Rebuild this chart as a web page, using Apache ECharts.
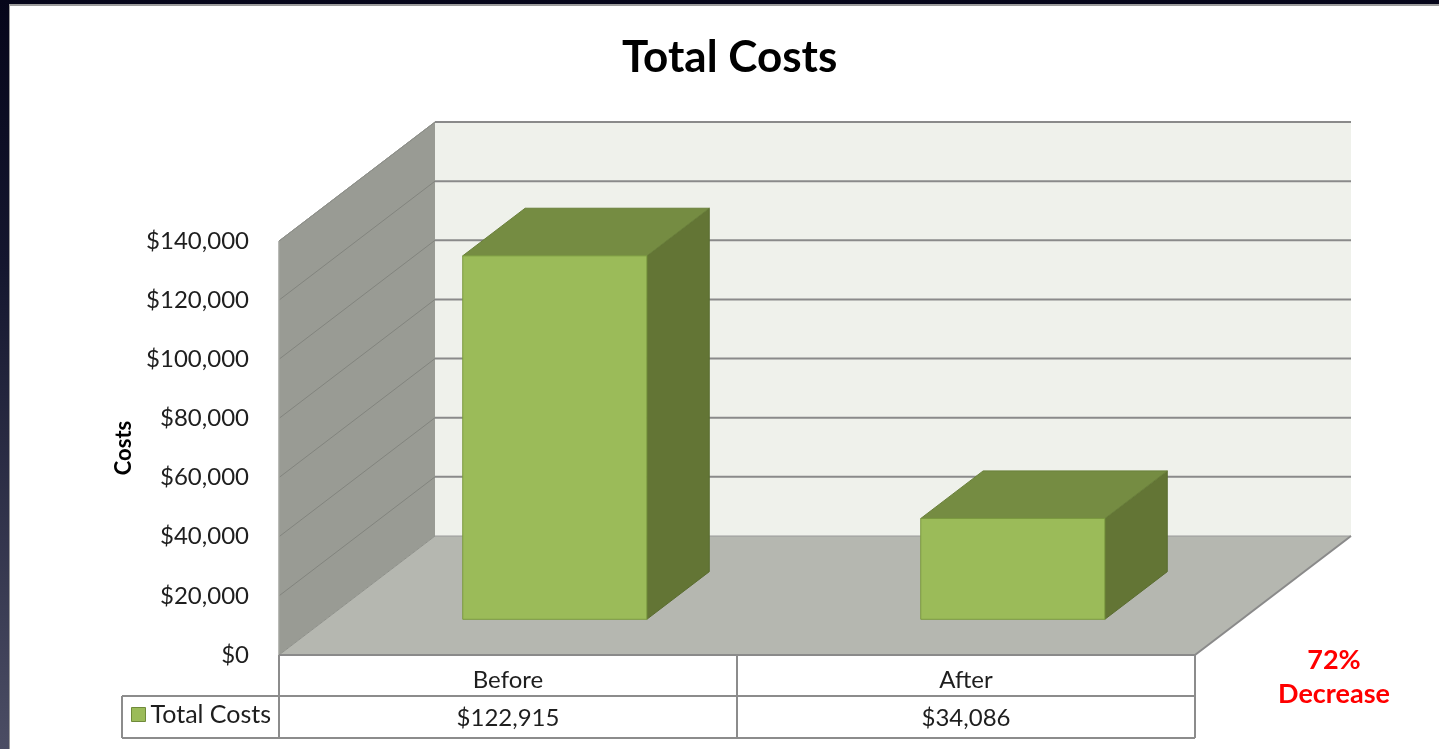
<!DOCTYPE html>
<html><head><meta charset="utf-8">
<script src="https://cdn.jsdelivr.net/npm/echarts@6/dist/echarts.min.js"></script>
<style>
html,body{margin:0;padding:0;width:1439px;height:749px;overflow:hidden;background:linear-gradient(#06061a 0%, #14162e 35%, #4b4d64 100%);}
#panel{position:absolute;left:9px;top:4px;width:1430px;height:745px;background:#fff;border-left:1px solid #9c9c9c;border-top:2px solid #9c9c9c;box-sizing:border-box;}
#chart{position:absolute;left:0;top:0;width:1439px;height:749px;}
</style></head><body><div id="panel"></div><div id="chart"></div>
<script>
// ---- data ----
const chartTitle = 'Total Costs';
const seriesName = 'Total Costs';
const axisName = 'Costs';
const categories = ['Before', 'After'];
const costs = [122915, 34086];
const yMin = 0, yMax = 140000, yStep = 20000;

// ---- style constants ----
const FONT = 'Lato, "Open Sans", sans-serif';
const DEPTH = [156, -119];          // full floor depth (oblique projection)
const BAR_D0 = 0.30, BAR_D1 = 0.70; // bar depth placement
const BAR_RATIO = 0.402;
const ROW1 = 41, ROW2 = 83, LEGEND_CELL_W = 157;
const money = v => '$' + Math.round(v).toLocaleString('en-US');

function renderBackground(params, api) {
  const cs = params.coordSys;
  const x0 = cs.x, x1 = cs.x + cs.width;
  const yb = api.coord([0, yMin])[1];
  const yt = api.coord([0, yMax])[1];
  const dx = DEPTH[0], dy = DEPTH[1];
  const ch = [];
  ch.push({type:'polygon', shape:{points:[[x0+dx,yt+dy],[x1+dx,yt+dy],[x1+dx,yb+dy],[x0+dx,yb+dy]]}, style:{fill:'#eff1eb'}});
  ch.push({type:'polygon', shape:{points:[[x0,yt],[x0+dx,yt+dy],[x0+dx,yb+dy],[x0,yb]]}, style:{fill:'#999b94'}});
  ch.push({type:'polygon', shape:{points:[[x0,yb],[x0+dx,yb+dy],[x1+dx,yb+dy],[x1,yb]]}, style:{fill:'#b5b7b0'}});
  for (let v = yMin + yStep; v <= yMax; v += yStep) {
    const y = api.coord([0, v])[1];
    ch.push({type:'line', shape:{x1:x0+dx, y1:y+dy, x2:x1+dx, y2:y+dy}, style:{stroke:'#8a8a8a', lineWidth:2}});
    ch.push({type:'line', shape:{x1:x0, y1:y, x2:x0+dx, y2:y+dy}, style:{stroke:'#82847e', lineWidth:1}});
  }
  ch.push({type:'line', shape:{x1:x0+dx, y1:yb+dy, x2:x1+dx, y2:yb+dy}, style:{stroke:'#9a9a9a', lineWidth:1}});
  ch.push({type:'line', shape:{x1:x0, y1:yb, x2:x0+dx, y2:yb+dy}, style:{stroke:'#8e908a', lineWidth:1}});
  ch.push({type:'line', shape:{x1:x0, y1:yt, x2:x0+dx, y2:yt+dy}, style:{stroke:'#8e908a', lineWidth:1}});
  ch.push({type:'line', shape:{x1:x1, y1:yb, x2:x1+dx, y2:yb+dy}, style:{stroke:'#8a8a8a', lineWidth:2}});
  ch.push({type:'line', shape:{x1:x0, y1:yt, x2:x0, y2:yb}, style:{stroke:'#a2a39e', lineWidth:1.5}});
  ch.push({type:'line', shape:{x1:x0, y1:yb, x2:x1, y2:yb}, style:{stroke:'#8a8a8a', lineWidth:2}});
  return {type:'group', children:ch};
}

function renderBar(params, api) {
  const idx = api.value(0), val = api.value(1);
  const base = api.coord([idx, 0]);
  const top = api.coord([idx, val]);
  const w = api.size([1, 0])[0] * BAR_RATIO;
  const ox = DEPTH[0] * BAR_D0, oy = DEPTH[1] * BAR_D0;
  const bx = DEPTH[0] * (BAR_D1 - BAR_D0), by = DEPTH[1] * (BAR_D1 - BAR_D0);
  const L = base[0] - w / 2 + ox, R = base[0] + w / 2 + ox;
  const T = top[1] + oy, B = base[1] + oy;
  return {type:'group', children:[
    {type:'polygon', shape:{points:[[R,T],[R+bx,T+by],[R+bx,B+by],[R,B]]}, style:{fill:'#637535', stroke:'#5a6c30', lineWidth:1}},
    {type:'polygon', shape:{points:[[L,T],[L+bx,T+by],[R+bx,T+by],[R,T]]}, style:{fill:'#758c42', stroke:'#6a803b', lineWidth:1}},
    {type:'rect', shape:{x:L, y:T, width:R-L, height:B-T}, style:{fill:'#9bbb59', stroke:'#7b9a3f', lineWidth:1}}
  ]};
}

function renderTable(params, api) {
  const i = api.value(0);
  const band = api.size([1, 0])[0];
  const cx = api.coord([i, 0])[0];
  const yb = api.coord([0, yMin])[1];
  const L = cx - band / 2, R = cx + band / 2;
  const st = {stroke:'#8c8c8c', lineWidth:2};
  const ch = [
    {type:'line', shape:{x1:L, y1:yb+ROW1, x2:R, y2:yb+ROW1}, style:st},
    {type:'line', shape:{x1:L, y1:yb+ROW2, x2:R, y2:yb+ROW2}, style:st},
    {type:'line', shape:{x1:R, y1:yb, x2:R, y2:yb+ROW2}, style:st},
    {type:'text', style:{text:categories[i], x:cx, y:yb+ROW1/2+5, align:'center', verticalAlign:'middle', fill:'#1e1e1e', fontSize:24, fontFamily:FONT}},
    {type:'text', style:{text:money(costs[i]), x:cx, y:yb+(ROW1+ROW2)/2+1, align:'center', verticalAlign:'middle', fill:'#1e1e1e', fontSize:24, fontFamily:FONT}}
  ];
  if (i === 0) {
    ch.push({type:'line', shape:{x1:L, y1:yb, x2:L, y2:yb+ROW2}, style:st});
    ch.push({type:'line', shape:{x1:L-LEGEND_CELL_W, y1:yb+ROW1, x2:L, y2:yb+ROW1}, style:st});
    ch.push({type:'line', shape:{x1:L-LEGEND_CELL_W, y1:yb+ROW2, x2:L, y2:yb+ROW2}, style:st});
    ch.push({type:'line', shape:{x1:L-LEGEND_CELL_W, y1:yb+ROW1, x2:L-LEGEND_CELL_W, y2:yb+ROW2}, style:st});
  }
  return {type:'group', children:ch};
}

const pct = Math.round((1 - costs[1] / costs[0]) * 100);

const chart = echarts.init(document.getElementById('chart'), null, {renderer:'canvas'});
chart.setOption({
  backgroundColor: 'transparent',
  animation: false,
  title: {text: chartTitle, left: 622, top: 36, padding: 0,
    textStyle: {fontSize: 44, fontWeight: 'bold', color: '#000', fontFamily: FONT}},
  legend: {data: [seriesName], left: 131, top: 702, padding: 0, icon: 'rect', itemWidth: 14, itemHeight: 14, itemGap: 0,
    itemStyle: {color: '#9bbb59', borderColor: '#6f8a3a', borderWidth: 1},
    textStyle: {fontSize: 25, color: '#1e1e1e', fontFamily: FONT}, selectedMode: false},
  grid: {left: 279, right: 244, top: 241, bottom: 94, containLabel: false},
  xAxis: {type: 'category', data: categories, axisLine: {show: false}, axisTick: {show: false}, axisLabel: {show: false}, splitLine: {show: false}},
  yAxis: {type: 'value', min: yMin, max: yMax, interval: yStep,
    name: axisName, nameLocation: 'middle', nameRotate: 90, nameGap: 143,
    nameTextStyle: {fontSize: 22, fontWeight: 'bold', color: '#000', fontFamily: FONT},
    axisLine: {show: false}, axisTick: {show: false}, splitLine: {show: false},
    axisLabel: {margin: 30, fontSize: 24, color: '#1e1e1e', fontFamily: FONT, formatter: v => money(v)}},
  graphic: [
    {type: 'text', x: 1334, y: 660, style: {text: pct + '%', fill: '#ff0000', fontSize: 27, fontWeight: 'bold', fontFamily: FONT, align: 'center', verticalAlign: 'middle'}},
    {type: 'text', x: 1334, y: 694, style: {text: 'Decrease', fill: '#ff0000', fontSize: 27, fontWeight: 'bold', fontFamily: FONT, align: 'center', verticalAlign: 'middle'}}
  ],
  series: [
    {type: 'custom', name: '_bg', z: 1, silent: true, renderItem: renderBackground, data: [[0, 0]], encode: {x: 0, y: 1}},
    {type: 'custom', name: seriesName, z: 2, renderItem: renderBar,
      itemStyle: {color: '#9bbb59', borderColor: '#6f8a3a', borderWidth: 1},
      data: categories.map((c, i) => [i, costs[i]]), encode: {x: 0, y: 1}},
    {type: 'custom', name: '_table', z: 3, silent: true, renderItem: renderTable,
      data: categories.map((c, i) => [i, 0]), encode: {x: 0, y: 1}}
  ]
});
</script></body></html>
